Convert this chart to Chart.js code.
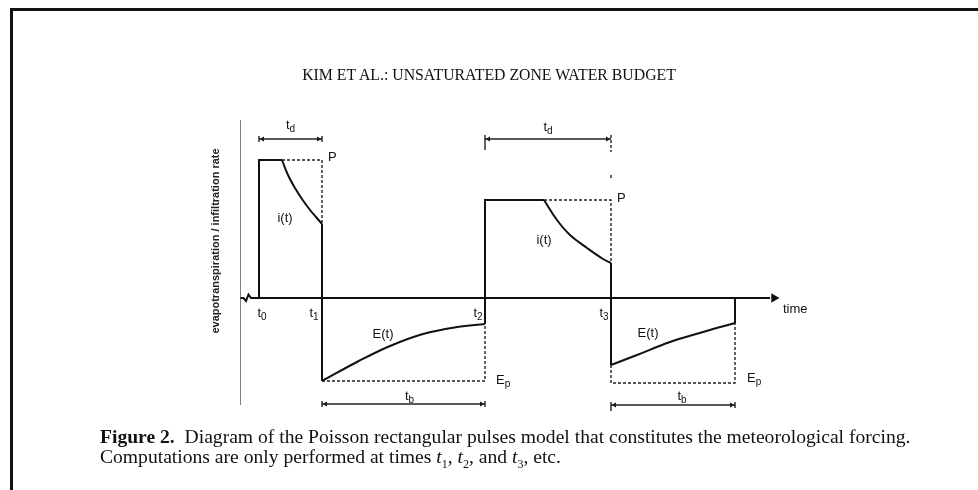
<!DOCTYPE html>
<html>
<head>
<meta charset="utf-8">
<script src="https://cdn.jsdelivr.net/npm/chart.js@4.4.1/dist/chart.umd.min.js"></script>
<style>
  html, body { margin:0; padding:0; background:#fff; }
  body { width:978px; height:490px; position:relative; overflow:hidden; }
  #frame { position:absolute; left:10px; top:8px; width:980px; height:500px; border-top:3px solid #111; border-left:3px solid #111; box-sizing:border-box; }
  #c { position:absolute; left:0; top:0; }
  #title { position:absolute; left:0; width:978px; top:65px; text-align:center; font-family:"Liberation Serif","DejaVu Serif",serif; font-size:15.8px; color:#111; line-height:20px; }
  #caption { position:absolute; left:100px; top:427px; font-family:"Liberation Serif","DejaVu Serif",serif; font-size:19.6px; color:#111; line-height:20px; white-space:nowrap; }
  #caption sub { font-size:12px; line-height:0; }
</style>
</head>
<body>
<div id="frame"></div>
<canvas id="c" width="978" height="490"></canvas>
<div id="title">KIM ET AL.: UNSATURATED ZONE WATER BUDGET</div>
<div id="caption"><b>Figure 2.</b>&nbsp;&nbsp;Diagram of the Poisson rectangular pulses model that constitutes the meteorological forcing.<br>Computations are only performed at times <i>t</i><sub>1</sub>, <i>t</i><sub>2</sub>, and <i>t</i><sub>3</sub>, etc.</div>
<script>
// ---- data (time units / rate units) ----
const eventTimes   = [1.9, 8.2, 24.5, 37.1, 49.5];      // t0, t1, t2, t3, end of 2nd interstorm
const eventLabels  = ['0', '1', '2', '3'];
const stormP       = [13.8, 9.8];                        // storm intensity P of each pulse
const pondingTime  = [4.2, 30.4];                        // end of flat infiltration at P
const interstormEp = [-8.3, -8.5];                       // potential evaporation level Ep
const infil1X = [4.2, 4.8, 5.5, 6.2, 7.0, 7.6, 8.2];
const infil1Y = [13.8, 12.3, 11.0, 9.9, 8.8, 8.1, 7.4];
const infil2X = [30.4, 31.7, 33.0, 34.7, 36.3, 37.1];
const infil2Y = [9.8, 7.8, 6.3, 5.0, 3.9, 3.5];
const evap1X  = [8.2, 11.7, 15.0, 18.3, 21.7, 24.5];
const evap1Y  = [-8.3, -6.4, -4.8, -3.6, -2.9, -2.6];
const evap2X  = [37.1, 39.7, 43.0, 46.3, 49.5];
const evap2Y  = [-6.7, -5.7, -4.4, -3.4, -2.5];
const tdLevel = [15.9, 15.9];
const tbLevel = [-10.6, -10.7];

// ---- helpers ----
const pts = (xs, ys) => xs.map((x, i) => ({x, y: ys[i]}));
const last = a => a[a.length - 1];
const [t0, t1, t2, t3, t4] = eventTimes;

const solid = (data, extra) => Object.assign({data, showLine:true, borderColor:'#111', borderWidth:2, pointRadius:0, tension:0, fill:false}, extra||{});
const dashed = data => solid(data, {borderWidth:1.4, borderDash:[3,2], borderColor:'#222'});
const thin = data => solid(data, {borderWidth:1.4, borderColor:'#222'});
const arrowHeads = (xs, y, r) => ({data: xs.map(x => ({x, y})), showLine:false, pointStyle:'triangle', pointRadius:r, pointRotation: xs.map((x,i)=> i%2===0 ? -90 : 90), backgroundColor:'#111', borderColor:'#111', borderWidth:0});

const datasets = [
  // y axis
  solid([{x:0, y:17.8}, {x:0, y:-10.7}], {borderWidth:1.5, borderColor:'#555'}),
  // time axis with break symbol
  solid([{x:0,y:0},{x:0.35,y:0},{x:0.6,y:-0.3},{x:0.85,y:0.35},{x:1.1,y:0},{x:53.0,y:0}], {borderWidth:2}),
  {data:[{x:53.4, y:0}], showLine:false, pointStyle:'triangle', pointRadius:5.5, pointRotation:90, backgroundColor:'#111', borderWidth:0},
  // storm / interstorm solid outline
  solid([{x:t0,y:0},{x:t0,y:stormP[0]},{x:pondingTime[0],y:stormP[0]}]),
  solid([{x:t1,y:last(infil1Y)},{x:t1,y:evap1Y[0]}]),
  solid([{x:t2,y:last(evap1Y)},{x:t2,y:stormP[1]},{x:pondingTime[1],y:stormP[1]}]),
  solid([{x:t3,y:last(infil2Y)},{x:t3,y:evap2Y[0]}]),
  solid([{x:t4,y:last(evap2Y)},{x:t4,y:0}]),
  // curves
  solid(pts(infil1X, infil1Y), {tension:0.4}),
  solid(pts(infil2X, infil2Y), {tension:0.4}),
  solid(pts(evap1X, evap1Y), {tension:0.4}),
  solid(pts(evap2X, evap2Y), {tension:0.4}),
  // dotted reference rectangles
  dashed([{x:pondingTime[0],y:stormP[0]},{x:t1,y:stormP[0]},{x:t1,y:last(infil1Y)}]),
  dashed([{x:t1,y:interstormEp[0]},{x:t2,y:interstormEp[0]},{x:t2,y:last(evap1Y)}]),
  dashed([{x:pondingTime[1],y:stormP[1]},{x:t3,y:stormP[1]},{x:t3,y:last(infil2Y)}]),
  dashed([{x:t3,y:evap2Y[0]},{x:t3,y:interstormEp[1]},{x:t4,y:interstormEp[1]},{x:t4,y:last(evap2Y)}]),
  dashed([{x:t3,y:12.3},{x:t3,y:12.0}]),
  // td / tb dimension lines
  thin([{x:t0,y:tdLevel[0]},{x:t1,y:tdLevel[0]}]),
  thin([{x:t2,y:tdLevel[1]},{x:t3,y:tdLevel[1]}]),
  thin([{x:t1,y:tbLevel[0]},{x:t2,y:tbLevel[0]}]),
  thin([{x:t3,y:tbLevel[1]},{x:t4,y:tbLevel[1]}]),
  thin([{x:t0,y:tdLevel[0]+0.3},{x:t0,y:tdLevel[0]-0.3}]),
  thin([{x:t1,y:tdLevel[0]+0.3},{x:t1,y:tdLevel[0]-0.3}]),
  thin([{x:t2,y:tdLevel[1]+0.4},{x:t2,y:tdLevel[1]-1.1}]),
  dashed([{x:t3,y:tdLevel[1]+0.4},{x:t3,y:tdLevel[1]-1.3}]),
  thin([{x:t1,y:tbLevel[0]+0.3},{x:t1,y:tbLevel[0]-0.3}]),
  thin([{x:t2,y:tbLevel[0]+0.3},{x:t2,y:tbLevel[0]-0.3}]),
  thin([{x:t3,y:tbLevel[1]+0.3},{x:t3,y:tbLevel[1]-0.6}]),
  thin([{x:t4,y:tbLevel[1]+0.3},{x:t4,y:tbLevel[1]-0.3}]),
  arrowHeads([t0+0.35, t1-0.35], tdLevel[0], 3),
  arrowHeads([t2+0.35, t3-0.35], tdLevel[1], 3),
  arrowHeads([t1+0.35, t2-0.35], tbLevel[0], 3),
  arrowHeads([t3+0.35, t4-0.35], tbLevel[1], 3)
];

// ---- text labels (data-space anchors) ----
const textLabels = [
  {m:'t', s:'d', x:(t0+t1)/2, y:17.3},
  {m:'t', s:'d', x:(t2+t3)/2, y:17.1},
  {m:'P', x:t1+0.6, y:14.1, align:'left'},
  {m:'P', x:t3+0.6, y:10.0, align:'left'},
  {m:'i(t)', x:4.5, y:8.0},
  {m:'i(t)', x:30.4, y:5.8},
  {m:'t', s:eventLabels[0], x:t0+0.3, y:-1.5},
  {m:'t', s:eventLabels[1], x:t1-0.8, y:-1.5},
  {m:'t', s:eventLabels[2], x:t2-0.7, y:-1.5},
  {m:'t', s:eventLabels[3], x:t3-0.7, y:-1.5},
  {m:'E(t)', x:14.3, y:-3.6},
  {m:'E(t)', x:40.8, y:-3.5},
  {m:'E', s:'p', x:t2+1.1, y:-8.2, align:'left'},
  {m:'E', s:'p', x:t4+1.2, y:-8.0, align:'left'},
  {m:'t', s:'b', x:(t1+t2)/2 + 0.6, y:-9.8},
  {m:'t', s:'b', x:(t3+t4)/2 + 0.9, y:-9.8},
  {m:'time', x:54.3, y:-1.1, align:'left'}
];

const labelPlugin = {
  id:'labels',
  afterDatasetsDraw(chart) {
    const {ctx, scales:{x, y}} = chart;
    ctx.save();
    ctx.fillStyle = '#111';
    ctx.textBaseline = 'middle';
    const mainFont = '13px "Liberation Sans", Arial, sans-serif';
    const subFont = '10px "Liberation Sans", Arial, sans-serif';
    textLabels.forEach(l => {
      const px = x.getPixelForValue(l.x), py = y.getPixelForValue(l.y);
      ctx.font = mainFont;
      const wm = ctx.measureText(l.m).width;
      ctx.font = subFont;
      const ws = l.s ? ctx.measureText(l.s).width : 0;
      const total = wm + ws;
      const left = l.align === 'left' ? px : px - total / 2;
      ctx.textAlign = 'left';
      ctx.font = mainFont;
      ctx.fillText(l.m, left, py);
      if (l.s) { ctx.font = subFont; ctx.fillText(l.s, left + wm, py + 4); }
    });
    // y-axis title
    const cx = x.getPixelForValue(0) - 24, cy = y.getPixelForValue(5.7);
    ctx.translate(cx, cy);
    ctx.rotate(-Math.PI / 2);
    ctx.textAlign = 'center';
    ctx.font = 'bold 11px "Liberation Sans", Arial, sans-serif';
    ctx.fillStyle = '#222';
    ctx.fillText('evapotranspiration / infiltration rate', 0, 0);
    ctx.restore();
  }
};

new Chart(document.getElementById('c'), {
  type:'scatter',
  data:{datasets},
  options:{
    responsive:false,
    animation:false,
    devicePixelRatio:1,
    layout:{padding:{left:240, right:198, top:118, bottom:72}},
    scales:{
      x:{type:'linear', min:0, max:54, display:false},
      y:{type:'linear', min:-12, max:18, display:false}
    },
    plugins:{legend:{display:false}, tooltip:{enabled:false}, title:{display:false}}
  },
  plugins:[labelPlugin]
});
</script>
</body>
</html>
